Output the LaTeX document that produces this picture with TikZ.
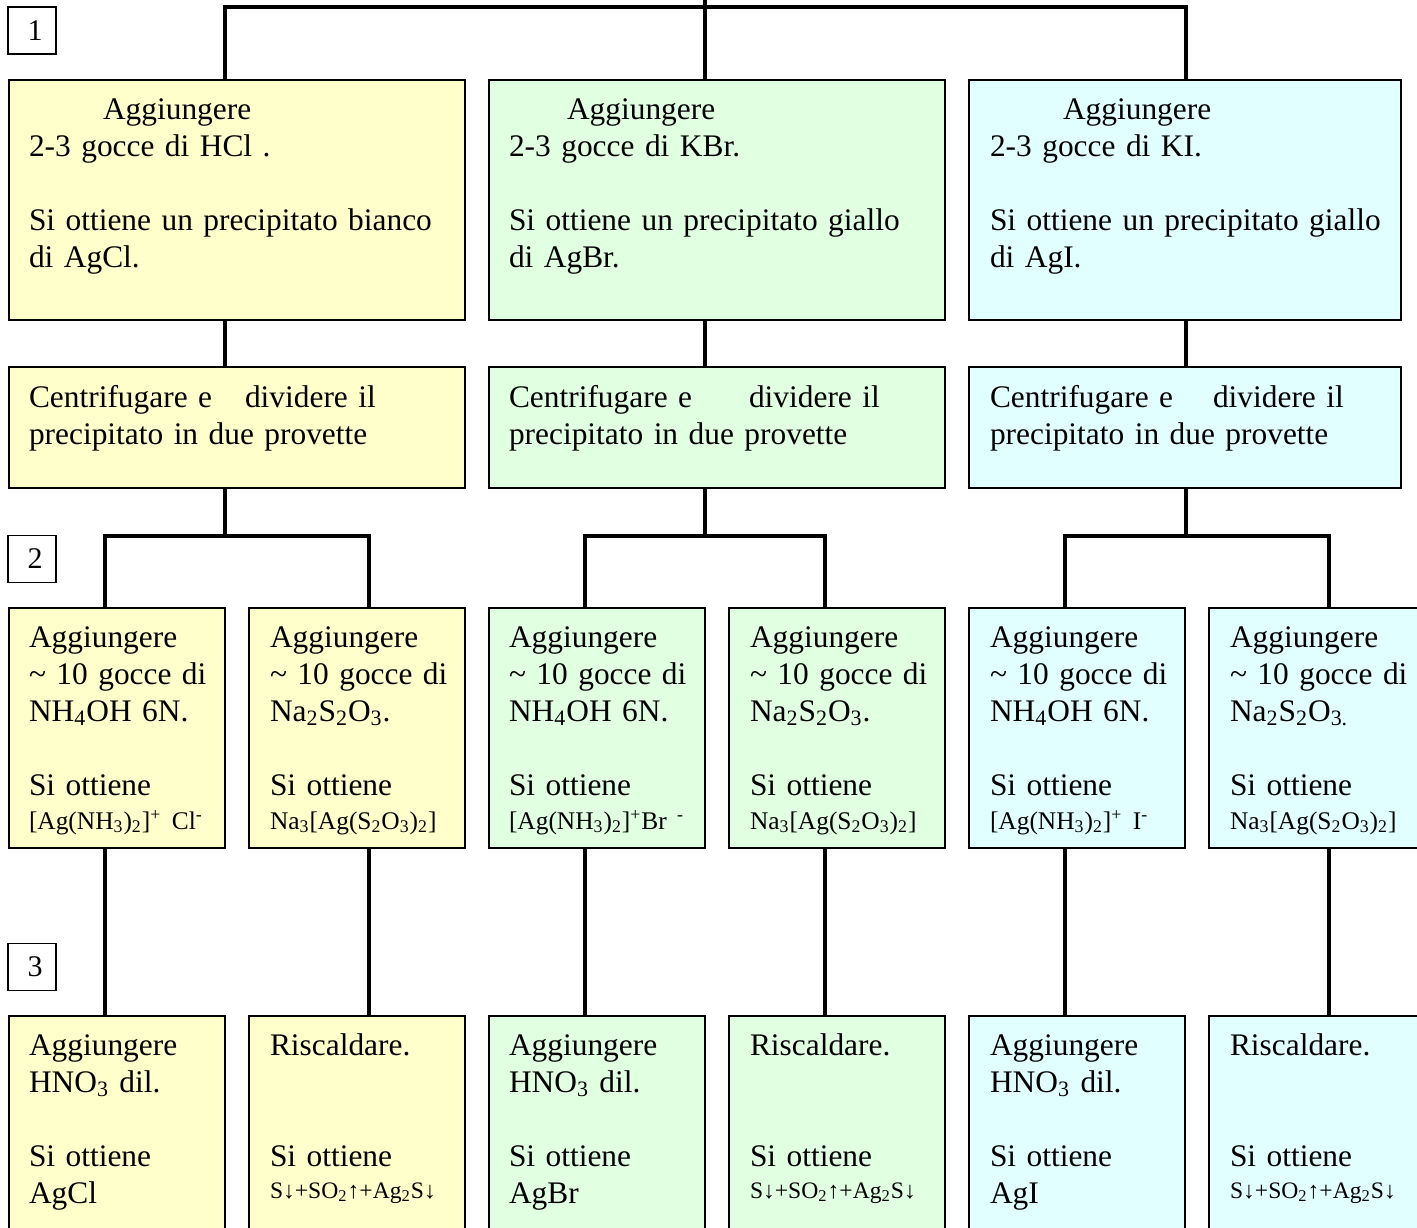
\documentclass[tikz,border=0pt]{standalone}
\usepackage{fontspec}
\setmainfont{Liberation Serif}
\definecolor{cy}{HTML}{FFFFCC}
\definecolor{cg}{HTML}{E1FFE1}
\definecolor{cc}{HTML}{E1FFFF}
\newcommand\subx[1]{\textsubscript{#1}}
\newcommand\supx[1]{\textsuperscript{#1}}
\newcommand\smallchem{\fontsize{12.7pt}{15pt}\selectfont}
\newcommand\tinychem{\fontsize{11.8pt}{15pt}\selectfont}
\tikzset{
  box/.style={draw=black, line width=1pt, inner sep=0pt, outer sep=0pt, anchor=north west},
  lbl/.style={draw=black, line width=0.8pt, fill=white, inner sep=0pt, outer sep=0pt,
    minimum width=24pt, minimum height=23.5pt, font=\fontsize{15pt}{18pt}\selectfont},
  conn/.style={draw=black, line width=2pt, line join=miter},
  txt/.style={anchor=base west, inner sep=0pt, outer sep=0pt, text width=250pt, align=left,
    font=\fontsize{15.7pt}{18.5pt}\selectfont}
}
\newcommand\mybox[6]{\node[box,fill=#6,minimum width=#4,minimum height=#5] (#1) at (#2,#3) {};}
\begin{document}
\begin{tikzpicture}[x=0.5pt,y=-0.5pt]
\useasboundingbox (0,0) rectangle (1417,1227);
\clip (0,0) rectangle (1417,1227);
% row 1
\mybox{r1a}{9}{80}{228pt}{120pt}{cy}
\mybox{r1b}{489}{80}{228pt}{120pt}{cg}
\mybox{r1c}{969}{80}{216pt}{120pt}{cc}
% row 2
\mybox{r2a}{9}{367}{228pt}{60.5pt}{cy}
\mybox{r2b}{489}{367}{228pt}{60.5pt}{cg}
\mybox{r2c}{969}{367}{216pt}{60.5pt}{cc}
% row 3
\mybox{r3a}{9}{608}{108pt}{120pt}{cy}
\mybox{r3b}{249}{608}{108pt}{120pt}{cy}
\mybox{r3c}{489}{608}{108pt}{120pt}{cg}
\mybox{r3d}{729}{608}{108pt}{120pt}{cg}
\mybox{r3e}{969}{608}{108pt}{120pt}{cc}
\mybox{r3f}{1209}{608}{108pt}{120pt}{cc}
% row 4
\mybox{r4a}{9}{1016}{108pt}{120pt}{cy}
\mybox{r4b}{249}{1016}{108pt}{120pt}{cy}
\mybox{r4c}{489}{1016}{108pt}{120pt}{cg}
\mybox{r4d}{729}{1016}{108pt}{120pt}{cg}
\mybox{r4e}{969}{1016}{108pt}{120pt}{cc}
\mybox{r4f}{1209}{1016}{108pt}{120pt}{cc}
% labels
\node[lbl] (n1) at (32,30.5) {\hspace*{3pt}1};
\node[lbl] (n2) at (32,559) {\hspace*{3pt}2};
\node[lbl] (n3) at (32,967) {\hspace*{3pt}3};
% connectors
\coordinate (top) at (705,0);
\coordinate (ja) at (225,7);
\coordinate (jc) at (1186,7);
\draw[conn] (top) -- (top |- r1b.north);
\draw[conn] (ja |- r1a.north) -- (ja) -- (jc) -- (jc |- r1c.north);
\draw[conn] (ja |- r1a.south) -- (ja |- r2a.north);
\draw[conn] (top |- r1b.south) -- (top |- r2b.north);
\draw[conn] (jc |- r1c.south) -- (jc |- r2c.north);
\coordinate (sa) at (225,536); \coordinate (saL) at (105,536); \coordinate (saR) at (369,536);
\coordinate (sb) at (705,536); \coordinate (sbL) at (585,536); \coordinate (sbR) at (825,536);
\coordinate (sc) at (1186,536); \coordinate (scL) at (1065,536); \coordinate (scR) at (1329,536);
\draw[conn] (sa |- r2a.south) -- (sa);
\draw[conn] (saL |- r3a.north) -- (saL) -- (saR) -- (saR |- r3b.north);
\draw[conn] (sb |- r2b.south) -- (sb);
\draw[conn] (sbL |- r3c.north) -- (sbL) -- (sbR) -- (sbR |- r3d.north);
\draw[conn] (sc |- r2c.south) -- (sc);
\draw[conn] (scL |- r3e.north) -- (scL) -- (scR) -- (scR |- r3f.north);
\draw[conn] (saL |- r3a.south) -- (saL |- r4a.north);
\draw[conn] (saR |- r3b.south) -- (saR |- r4b.north);
\draw[conn] (sbL |- r3c.south) -- (sbL |- r4c.north);
\draw[conn] (sbR |- r3d.south) -- (sbR |- r4d.north);
\draw[conn] (scL |- r3e.south) -- (scL |- r4e.north);
\draw[conn] (scR |- r3f.south) -- (scR |- r4f.north);
% row 1 texts
\node[txt] (t1a) at (29,119) {\hspace*{37pt}Aggiungere\\ 2-3 gocce di HCl .\\[18.5pt] Si ottiene un precipitato bianco\\ di AgCl.};
\node[txt] (t1b) at (509,119) {\hspace*{29pt}Aggiungere\\ 2-3 gocce di KBr.\\[18.5pt] Si ottiene un precipitato giallo\\ di AgBr.};
\node[txt] (t1c) at (990,119) {\hspace*{36.5pt}Aggiungere\\ 2-3 gocce di KI.\\[18.5pt] Si ottiene un precipitato giallo\\ di AgI.};
% row 2 texts
\node[txt] (t2a) at (29,407) {\makebox[108pt][l]{Centrifugare e}dividere il\\ precipitato in due provette};
\node[txt] (t2b) at (509,407) {\makebox[120pt][l]{Centrifugare e}dividere il\\ precipitato in due provette};
\node[txt] (t2c) at (990,407) {\makebox[111.5pt][l]{Centrifugare e}dividere il\\ precipitato in due provette};
% row 3 texts
\node[txt] (t3a) at (29,647) {Aggiungere\\ \textasciitilde{} 10 gocce di\\ NH\subx{4}OH 6N.\\[18.5pt] Si ottiene\\[-1.5pt] {\smallchem [Ag(NH\subx{3})\subx{2}]\supx{+} Cl\supx{-}}};
\node[txt] (t3b) at (270,647) {Aggiungere\\ \textasciitilde{} 10 gocce di\\ Na\subx{2}S\subx{2}O\subx{3}.\\[18.5pt] Si ottiene\\[-1.5pt] {\smallchem Na\subx{3}[Ag(S\subx{2}O\subx{3})\subx{2}]}};
\node[txt] (t3c) at (509,647) {Aggiungere\\ \textasciitilde{} 10 gocce di\\ NH\subx{4}OH 6N.\\[18.5pt] Si ottiene\\[-1.5pt] {\smallchem [Ag(NH\subx{3})\subx{2}]\supx{+}Br \supx{-}}};
\node[txt] (t3d) at (750,647) {Aggiungere\\ \textasciitilde{} 10 gocce di\\ Na\subx{2}S\subx{2}O\subx{3}.\\[18.5pt] Si ottiene\\[-1.5pt] {\smallchem Na\subx{3}[Ag(S\subx{2}O\subx{3})\subx{2}]}};
\node[txt] (t3e) at (990,647) {Aggiungere\\ \textasciitilde{} 10 gocce di\\ NH\subx{4}OH 6N.\\[18.5pt] Si ottiene\\[-1.5pt] {\smallchem [Ag(NH\subx{3})\subx{2}]\supx{+} I\supx{-}}};
\node[txt] (t3f) at (1230,647) {Aggiungere\\ \textasciitilde{} 10 gocce di\\ Na\subx{2}S\subx{2}O\subx{3.}\\[18.5pt] Si ottiene\\[-1.5pt] {\smallchem Na\subx{3}[Ag(S\subx{2}O\subx{3})\subx{2}]}};
% row 4 texts
\node[txt] (t4a) at (29,1055) {Aggiungere\\ HNO\subx{3} dil.\\[18.5pt] Si ottiene\\ AgCl};
\node[txt] (t4b) at (270,1055) {Riscaldare.\\[37pt] Si ottiene\\[-2.5pt] {\tinychem S↓+SO\subx{2}↑+Ag\subx{2}S↓}};
\node[txt] (t4c) at (509,1055) {Aggiungere\\ HNO\subx{3} dil.\\[18.5pt] Si ottiene\\ AgBr};
\node[txt] (t4d) at (750,1055) {Riscaldare.\\[37pt] Si ottiene\\[-2.5pt] {\tinychem S↓+SO\subx{2}↑+Ag\subx{2}S↓}};
\node[txt] (t4e) at (990,1055) {Aggiungere\\ HNO\subx{3} dil.\\[18.5pt] Si ottiene\\ AgI};
\node[txt] (t4f) at (1230,1055) {Riscaldare.\\[37pt] Si ottiene\\[-2.5pt] {\tinychem S↓+SO\subx{2}↑+Ag\subx{2}S↓}};
\end{tikzpicture}
\end{document}
